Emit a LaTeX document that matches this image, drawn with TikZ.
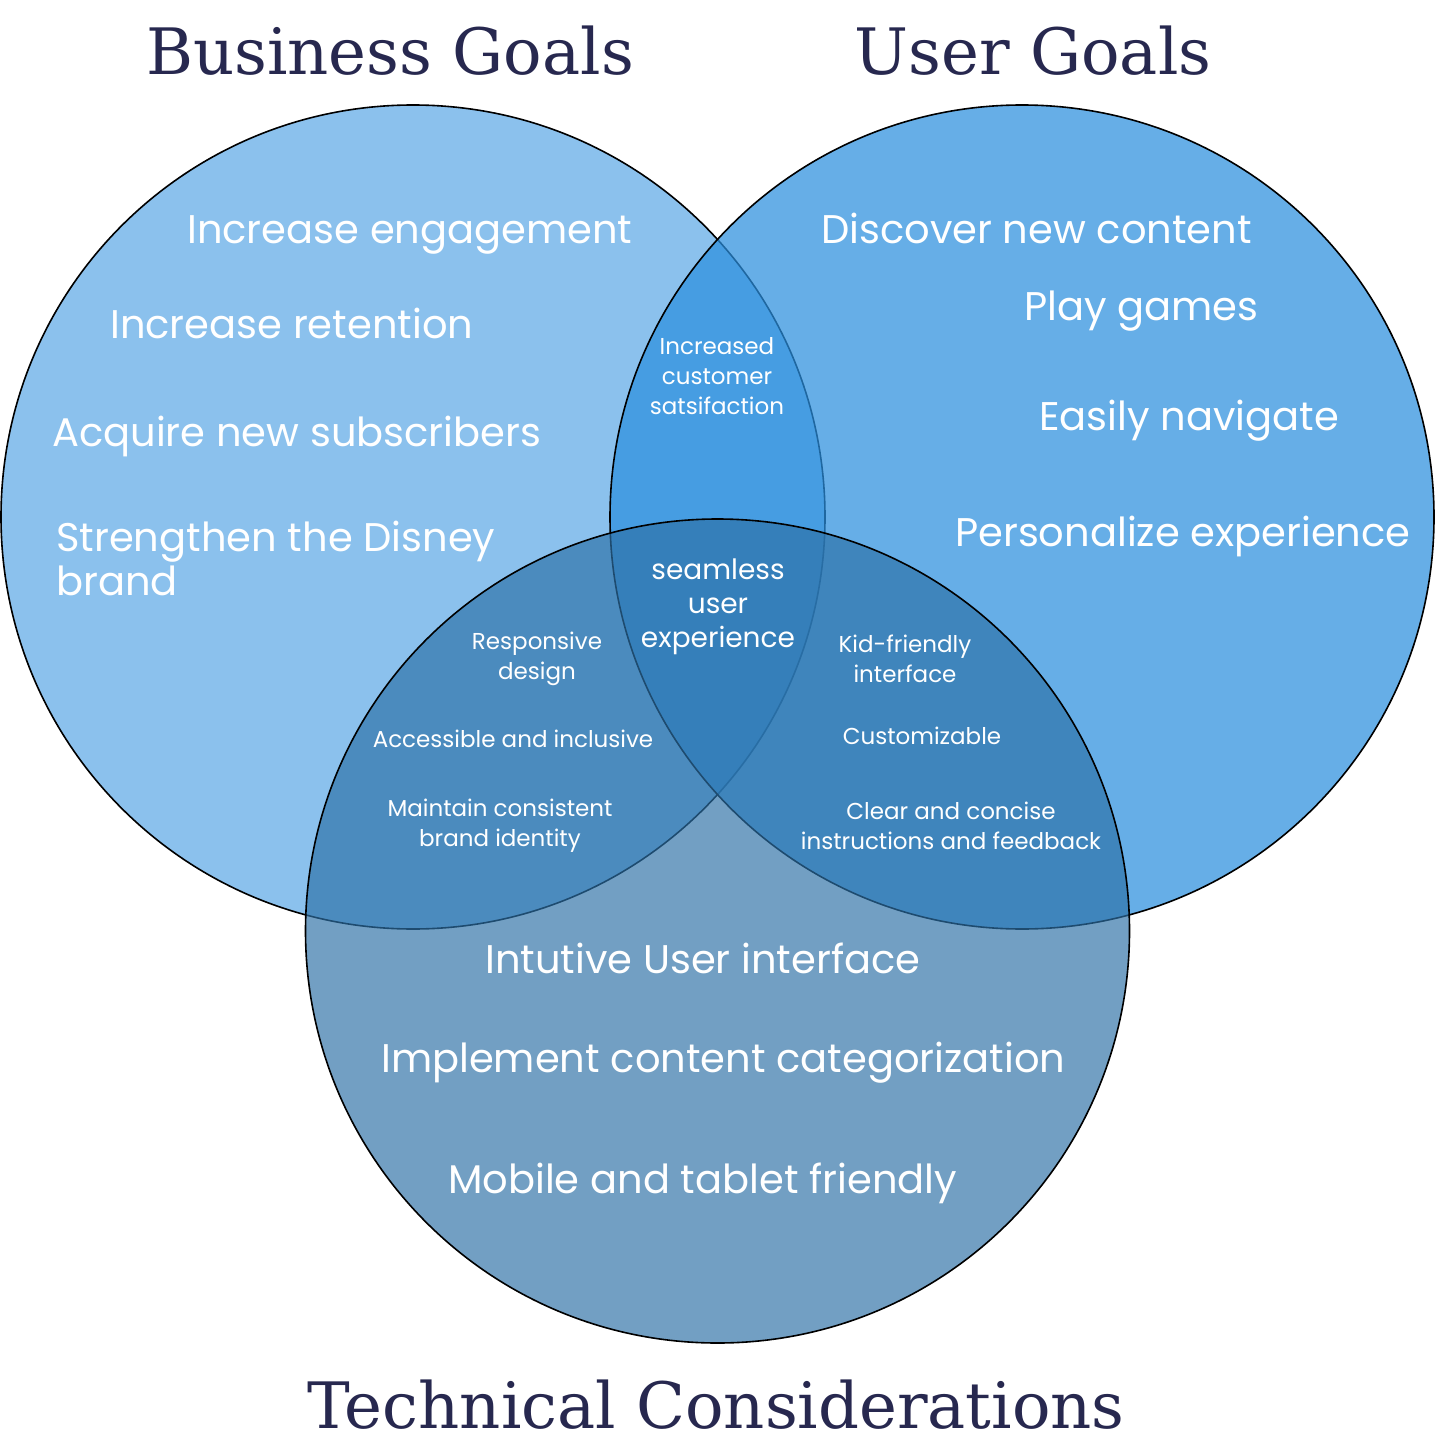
\documentclass[tikz,border=0pt]{standalone}
\usepackage{fontspec}
\newfontfamily\bodyfont{Poppins}
\newfontfamily\titlefont{DejaVu Serif}
\definecolor{cleft}{RGB}{139,193,237}
\definecolor{cright}{RGB}{44,144,223}
\definecolor{cbottom}{RGB}{45,113,167}
\definecolor{ctitle}{RGB}{39,40,79}
\begin{document}
\begin{tikzpicture}[x=1pt,y=-1pt,
  circ/.style={draw=black,line width=1.6pt},
  ttl/.style={font=\titlefont\fontsize{64}{72}\selectfont,text=ctitle,inner sep=0pt},
  big/.style={font=\bodyfont\fontsize{40}{44}\selectfont,text=white,inner sep=0pt,anchor=base west},
  mid/.style={font=\bodyfont\fontsize{28}{34}\selectfont,text=white,inner sep=0pt,align=center},
  small/.style={font=\bodyfont\fontsize{23}{30}\selectfont,text=white,inner sep=0pt,align=center}]
\path[use as bounding box,fill=white] (0,0) rectangle (1436,1442);
\draw[circ,fill=cleft] (413,517) circle (412);
\draw[circ,fill=cright,fill opacity=0.72] (1022,517) circle (412);
\draw[circ,fill=cbottom,fill opacity=0.67] (717.5,931) circle (412);
% titles
\node[ttl,anchor=base] (tb) at (390,75) {Business Goals};
\node[ttl,anchor=base] (tu) at (1033,75) {User Goals};
\node[ttl,anchor=base] (tt) at (716,1428) {Technical Considerations};
% business
\node[big] (b1) at (187,243) {Increase engagement};
\node[big] (b2) at (110,338) {Increase retention};
\node[big] (b3) at (52,446) {Acquire new subscribers};
\node[big,align=left,anchor=north west] (b4) at (56,521) {Strengthen the Disney\\brand};
% user
\node[big] (u1) at (821,243) {Discover new content};
\node[big] (u2) at (1024,320) {Play games};
\node[big] (u3) at (1039,430) {Easily navigate};
\node[big] (u4) at (955,546) {Personalize experience};
% technical
\node[big] (t1) at (485,973) {Intutive User interface};
\node[big] (t2) at (381,1072) {Implement content categorization};
\node[big] (t3) at (448,1193) {Mobile and tablet friendly};
% overlaps
\node[small] (bu) at (717,376) {Increased\\customer\\satsifaction};
\node[mid] (c) at (718,607) {seamless\\user\\experience};
\node[small] (bt1) at (537,659) {Responsive\\design};
\node[small] (bt2) at (513,739) {Accessible and inclusive};
\node[small] (bt3) at (500,826) {Maintain consistent\\brand identity};
\node[small] (ut1) at (905,659) {Kid-friendly\\interface};
\node[small] (ut2) at (922,736) {Customizable};
\node[small] (ut3) at (951,826) {Clear and concise\\instructions and feedback};
\end{tikzpicture}
\end{document}
